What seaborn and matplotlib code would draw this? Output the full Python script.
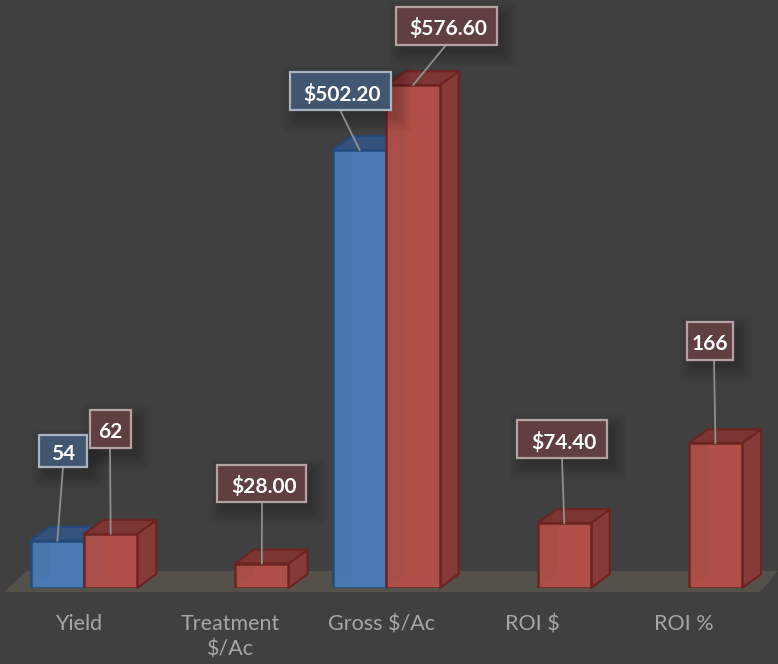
import numpy as np
import pandas as pd
import matplotlib
matplotlib.use("Agg")
import matplotlib.pyplot as plt
from matplotlib.colors import to_rgba
from matplotlib.patches import Polygon, Rectangle
from matplotlib.transforms import ScaledTranslation
import seaborn as sns

# ---- data ----
categories = ["Yield", "Treatment\n$/Ac", "Gross $/Ac", "ROI $", "ROI %"]
series_a = [54, np.nan, 502.20, np.nan, np.nan]
series_b = [62, 28.00, 576.60, 74.40, 166]
labels_a = ["54", None, "$502.20", None, None]
labels_b = ["62", "$28.00", "$576.60", "$74.40", "166"]

# ---- layout (pixels in the 778x664 figure) ----
W, H = 778, 664
BASE_Y = 588
PX_PER_UNIT = 0.872
CAT_X0, CAT_STEP = 84, 151.2
DEPTH_X, DEPTH_Y = 19, 14
boxes_a = [(39, 435, 87, 467), None, (290, 72, 391, 110), None, None]
boxes_b = [(90, 410, 131, 448), (217, 465, 306, 502), (396, 7, 497, 45),
           (517, 420, 607, 458), (687, 322, 733, 360)]
anchor_a = [63, None, 340, None, None]
anchor_b = [110, 262, 446, 562, 714]

BG = "#404040"
STYLE = {
    "A": dict(front="#4a7ab3", side="#3a5f8e", top="#35527c", floor="#4f7fb8",
              edge="#234a7c", box="#42566f", box_edge="#aab4c0"),
    "B": dict(front="#b04f48", side="#863b39", top="#7b3634", floor="#ba5850",
              edge="#6c2421", box="#5f3f3f", box_edge="#b3a3a3"),
}

sns.set_theme(style="dark", rc={"figure.facecolor": BG, "axes.facecolor": BG})
plt.rcParams["font.family"] = ["Lato", "DejaVu Sans"]

df = pd.DataFrame({
    "category": categories * 2,
    "series": ["A"] * len(categories) + ["B"] * len(categories),
    "value": series_a + series_b,
})

fig = plt.figure(figsize=(W / 100, H / 100), dpi=100, facecolor=BG)
ax = fig.add_axes([0, (H - BASE_Y) / H, 1, BASE_Y / H])
ax.patch.set_alpha(0)

sns.barplot(data=df, x="category", y="value", hue="series", hue_order=["A", "B"],
            order=categories, palette={"A": STYLE["A"]["front"], "B": STYLE["B"]["front"]},
            width=0.705, saturation=1, legend=False, ax=ax, errorbar=None)

ax.set_xlim(-CAT_X0 / CAT_STEP, (W - CAT_X0) / CAT_STEP)
ax.set_ylim(0, BASE_Y / PX_PER_UNIT)
ax.set_xlabel("")
ax.set_ylabel("")
ax.set_yticks([])
ax.grid(False)
for s in ax.spines.values():
    s.set_visible(False)

ax.tick_params(axis="x", length=0, pad=19, labelsize=15.5, labelcolor="#a6a6a6")
shift = ScaledTranslation(-5 / 100, 0, fig.dpi_scale_trans)
for t in ax.get_xticklabels():
    t.set_transform(t.get_transform() + shift)
    t.set_linespacing(1.3)


def figxy(x, y):
    return (x / W, 1 - y / H)


# floor
fig.add_artist(Polygon([figxy(4, 592), figxy(27, 571), figxy(778, 571), figxy(760, 592)],
                       closed=True, transform=fig.transFigure, facecolor="#54514a",
                       edgecolor="none", zorder=0.5))

dx = DEPTH_X / CAT_STEP
dy = DEPTH_Y / PX_PER_UNIT
tops = {}
for container, key, values in zip(ax.containers, ["A", "B"], [series_a, series_b]):
    st = STYLE[key]
    base_z = 2 if key == "A" else 4
    for bar in container.patches:
        x0, w, h = bar.get_x(), bar.get_width(), bar.get_height()
        if np.isnan(h):
            bar.set_visible(False)
            continue
        # the category index is recovered from the bar's inner (shared) edge
        i = int(round(x0 + w if key == "A" else x0))
        x1 = x0 + w
        kw = dict(closed=True, linewidth=1.6, edgecolor=st["edge"], joinstyle="round", clip_on=False)
        # interior faces seen through the translucent front
        ax.add_patch(Polygon([(x0 + dx, dy), (x1 + dx, dy), (x1 + dx, h + dy), (x0 + dx, h + dy)],
                             facecolor=st["front"], zorder=base_z, closed=True, clip_on=False,
                             edgecolor="none"))
        ax.add_patch(Polygon([(x0, 0), (x1, 0), (x1 + dx, dy), (x0 + dx, dy)],
                             facecolor=st["floor"], zorder=base_z, closed=True, clip_on=False,
                             edgecolor="none"))
        ax.add_patch(Polygon([(x1, 0), (x1 + dx, dy), (x1 + dx, h + dy), (x1, h)],
                             facecolor=st["side"], zorder=base_z + 0.2, **kw))
        ax.add_patch(Polygon([(x0, h), (x1, h), (x1 + dx, h + dy), (x0 + dx, h + dy)],
                             facecolor=st["top"], zorder=base_z + 0.2, **kw))
        bar.set_facecolor(to_rgba(st["front"], 0.95))
        bar.set_edgecolor(st["edge"])
        bar.set_linewidth(1.8)
        bar.set_zorder(base_z + 0.5)
        tops[(key, i)] = (x0 + w / 2, h)


def callout(key, i, box, anchor, text):
    st = STYLE[key]
    l, t, r, b = box
    zb = 7
    # soft shadow
    for grow in range(0, 16, 2):
        sx, sy = figxy(l + 6 - grow, b + 8 + grow)
        ex, ey = figxy(r + 6 + grow, t + 8 - grow)
        fig.add_artist(Rectangle((sx, sy), ex - sx, ey - sy, transform=fig.transFigure,
                                 facecolor=(0, 0, 0, 0.022), edgecolor="none", zorder=zb))
    # leader line, from the box to the middle of the bar's top edge
    bx, by = tops[(key, i)]
    end = fig.transFigure.inverted().transform(ax.transData.transform((bx, by)))
    start = figxy(anchor, b)
    fig.add_artist(plt.Line2D([start[0], end[0]], [start[1], end[1]], transform=fig.transFigure,
                              color="#8f8f8f", linewidth=1.3, zorder=zb + 1))
    # box
    x0, y0 = figxy(l, b)
    x1, y1 = figxy(r, t)
    fig.add_artist(Rectangle((x0, y0), x1 - x0, y1 - y0, transform=fig.transFigure,
                             facecolor=st["box"], edgecolor=st["box_edge"], linewidth=1.6,
                             zorder=zb + 2))
    nudge = 2 if text.startswith("$") else 0
    cx, cy = figxy((l + r) / 2 + nudge, (t + b) / 2 + 1)
    fig.text(cx, cy, text, ha="center", va="center_baseline", color="white", fontsize=15,
             fontweight="bold", zorder=zb + 3)


ax.set_zorder(1)
for i in range(len(categories)):
    if boxes_a[i] is not None and ("A", i) in tops:
        callout("A", i, boxes_a[i], anchor_a[i], labels_a[i])
for i in range(len(categories)):
    if boxes_b[i] is not None and ("B", i) in tops:
        callout("B", i, boxes_b[i], anchor_b[i], labels_b[i])

fig.savefig("out.png", dpi=100, facecolor=BG)
